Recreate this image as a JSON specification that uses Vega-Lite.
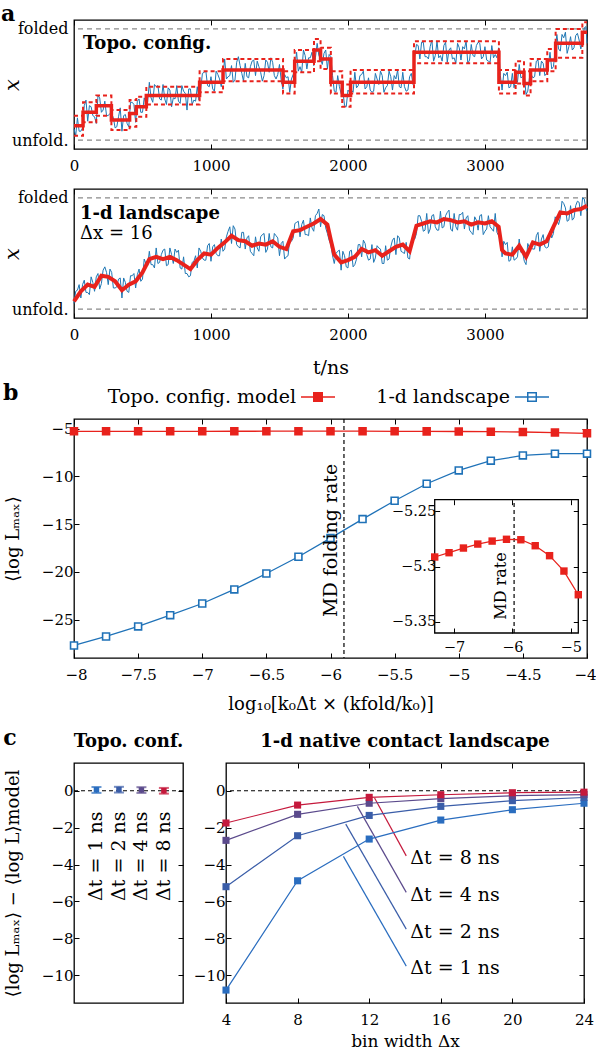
{
  "$schema": "https://vega.github.io/schema/vega-lite/v6.json",
  "background": "white",
  "padding": {"left": 0, "top": 2, "right": 0, "bottom": 0},
  "datasets": {
    "lv": [{"lvl": 0}, {"lvl": 1}],
    "aTopStep": [
      {"t":0,"lvl":0.13,"lo":0.04,"hi":0.22},{"t":66,"lvl":0.25,"lo":0.16,"hi":0.34},{"t":163,"lvl":0.31,"lo":0.22,"hi":0.40},
      {"t":273,"lvl":0.18,"lo":0.09,"hi":0.27},{"t":406,"lvl":0.24,"lo":0.12,"hi":0.36},{"t":455,"lvl":0.30,"lo":0.21,"hi":0.39},
      {"t":528,"lvl":0.40,"lo":0.32,"hi":0.48},{"t":917,"lvl":0.52,"lo":0.43,"hi":0.62},{"t":1088,"lvl":0.63,"lo":0.53,"hi":0.73},
      {"t":1526,"lvl":0.52,"lo":0.42,"hi":0.62},{"t":1611,"lvl":0.71,"lo":0.61,"hi":0.81},{"t":1752,"lvl":0.81,"lo":0.71,"hi":0.91},
      {"t":1800,"lvl":0.73,"lo":0.64,"hi":0.83},{"t":1875,"lvl":0.52,"lo":0.42,"hi":0.62},{"t":1958,"lvl":0.40,"lo":0.30,"hi":0.50},
      {"t":2019,"lvl":0.52,"lo":0.42,"hi":0.63},{"t":2482,"lvl":0.79,"lo":0.69,"hi":0.89},{"t":3102,"lvl":0.52,"lo":0.42,"hi":0.63},
      {"t":3224,"lvl":0.61,"lo":0.51,"hi":0.71},{"t":3285,"lvl":0.51,"lo":0.40,"hi":0.62},{"t":3333,"lvl":0.63,"lo":0.53,"hi":0.73},
      {"t":3455,"lvl":0.72,"lo":0.62,"hi":0.82},{"t":3516,"lvl":0.87,"lo":0.74,"hi":1.00},{"t":3711,"lvl":0.97,"lo":0.86,"hi":1.06},
      {"t":3745,"lvl":0.97,"lo":0.86,"hi":1.06}
    ],
    "aTopBlue": [
      {"t":0,"x":0.10},{"t":25,"x":0.20},{"t":50,"x":0.08},{"t":75,"x":0.31},{"t":100,"x":0.17},{"t":125,"x":0.30},{"t":150,"x":0.21},{"t":175,"x":0.40},
      {"t":200,"x":0.25},{"t":225,"x":0.35},{"t":250,"x":0.22},{"t":275,"x":0.24},{"t":300,"x":0.11},{"t":325,"x":0.21},{"t":350,"x":0.08},{"t":375,"x":0.23},
      {"t":400,"x":0.12},{"t":425,"x":0.34},{"t":450,"x":0.16},{"t":475,"x":0.37},{"t":500,"x":0.25},{"t":525,"x":0.33},{"t":550,"x":0.52},{"t":575,"x":0.34},
      {"t":600,"x":0.48},{"t":625,"x":0.37},{"t":650,"x":0.50},{"t":675,"x":0.32},{"t":700,"x":0.45},{"t":725,"x":0.38},{"t":750,"x":0.49},{"t":775,"x":0.33},
      {"t":800,"x":0.44},{"t":825,"x":0.27},{"t":850,"x":0.46},{"t":875,"x":0.36},{"t":900,"x":0.48},{"t":925,"x":0.46},{"t":950,"x":0.61},{"t":975,"x":0.49},
      {"t":1000,"x":0.57},{"t":1025,"x":0.44},{"t":1050,"x":0.59},{"t":1075,"x":0.48},{"t":1100,"x":0.73},{"t":1125,"x":0.57},{"t":1150,"x":0.67},{"t":1175,"x":0.54},
      {"t":1200,"x":0.75},{"t":1225,"x":0.60},{"t":1250,"x":0.69},{"t":1275,"x":0.56},{"t":1300,"x":0.71},{"t":1325,"x":0.58},{"t":1350,"x":0.66},{"t":1375,"x":0.53},
      {"t":1400,"x":0.72},{"t":1425,"x":0.61},{"t":1450,"x":0.70},{"t":1475,"x":0.55},{"t":1500,"x":0.68},{"t":1525,"x":0.46},{"t":1550,"x":0.56},{"t":1575,"x":0.43},
      {"t":1600,"x":0.59},{"t":1625,"x":0.79},{"t":1650,"x":0.66},{"t":1675,"x":0.81},{"t":1700,"x":0.64},{"t":1725,"x":0.74},{"t":1750,"x":0.67},{"t":1775,"x":0.87},
      {"t":1800,"x":0.73},{"t":1825,"x":0.78},{"t":1850,"x":0.64},{"t":1875,"x":0.75},{"t":1900,"x":0.44},{"t":1925,"x":0.58},{"t":1950,"x":0.42},{"t":1975,"x":0.31},
      {"t":2000,"x":0.45},{"t":2025,"x":0.45},{"t":2050,"x":0.61},{"t":2075,"x":0.49},{"t":2100,"x":0.59},{"t":2125,"x":0.46},{"t":2150,"x":0.56},{"t":2175,"x":0.43},
      {"t":2200,"x":0.60},{"t":2225,"x":0.50},{"t":2250,"x":0.58},{"t":2275,"x":0.47},{"t":2300,"x":0.62},{"t":2325,"x":0.45},{"t":2350,"x":0.55},{"t":2375,"x":0.48},
      {"t":2400,"x":0.61},{"t":2425,"x":0.44},{"t":2450,"x":0.57},{"t":2475,"x":0.50},{"t":2500,"x":0.86},{"t":2525,"x":0.73},{"t":2550,"x":0.88},{"t":2575,"x":0.75},
      {"t":2600,"x":0.84},{"t":2625,"x":0.71},{"t":2650,"x":0.89},{"t":2675,"x":0.76},{"t":2700,"x":0.85},{"t":2725,"x":0.70},{"t":2750,"x":0.83},{"t":2775,"x":0.74},
      {"t":2800,"x":0.87},{"t":2825,"x":0.72},{"t":2850,"x":0.82},{"t":2875,"x":0.69},{"t":2900,"x":0.86},{"t":2925,"x":0.75},{"t":2950,"x":0.88},{"t":2975,"x":0.73},
      {"t":3000,"x":0.84},{"t":3025,"x":0.71},{"t":3050,"x":0.85},{"t":3075,"x":0.77},{"t":3100,"x":0.83},{"t":3125,"x":0.45},{"t":3150,"x":0.58},{"t":3175,"x":0.47},
      {"t":3200,"x":0.60},{"t":3225,"x":0.55},{"t":3250,"x":0.68},{"t":3275,"x":0.57},{"t":3300,"x":0.41},{"t":3325,"x":0.56},{"t":3350,"x":0.56},{"t":3375,"x":0.71},
      {"t":3400,"x":0.58},{"t":3425,"x":0.69},{"t":3450,"x":0.60},{"t":3475,"x":0.79},{"t":3500,"x":0.66},{"t":3525,"x":0.95},{"t":3550,"x":0.80},{"t":3575,"x":0.92},
      {"t":3600,"x":0.78},{"t":3625,"x":0.93},{"t":3650,"x":0.83},{"t":3675,"x":0.96},{"t":3700,"x":0.82},{"t":3725,"x":1.01},{"t":3745,"x":0.87},
      {"t":12.5,"x":0.04},{"t":37.5,"x":0.08},{"t":62.5,"x":0.11},{"t":87.5,"x":0.36},{"t":112.5,"x":0.31},{"t":137.5,"x":0.22},{"t":162.5,"x":0.15},{"t":187.5,"x":0.38},
      {"t":212.5,"x":0.27},{"t":237.5,"x":0.22},{"t":262.5,"x":0.24},{"t":287.5,"x":0.20},{"t":312.5,"x":0.12},{"t":337.5,"x":0.29},{"t":362.5,"x":0.22},{"t":387.5,"x":0.15},
      {"t":412.5,"x":0.34},{"t":437.5,"x":0.32},{"t":462.5,"x":0.35},{"t":487.5,"x":0.25},{"t":512.5,"x":0.38},{"t":537.5,"x":0.34},{"t":562.5,"x":0.38},{"t":587.5,"x":0.50},
      {"t":612.5,"x":0.49},{"t":637.5,"x":0.36},{"t":662.5,"x":0.37},{"t":687.5,"x":0.47},{"t":712.5,"x":0.30},{"t":737.5,"x":0.37},{"t":762.5,"x":0.35},{"t":787.5,"x":0.49},
      {"t":812.5,"x":0.42},{"t":837.5,"x":0.46},{"t":862.5,"x":0.32},{"t":887.5,"x":0.35},{"t":912.5,"x":0.36},{"t":937.5,"x":0.60},{"t":962.5,"x":0.62},{"t":987.5,"x":0.48},
      {"t":1012.5,"x":0.46},{"t":1037.5,"x":0.62},{"t":1062.5,"x":0.55},{"t":1087.5,"x":0.58},{"t":1112.5,"x":0.55},{"t":1137.5,"x":0.58},{"t":1162.5,"x":0.52},{"t":1187.5,"x":0.70},
      {"t":1212.5,"x":0.67},{"t":1237.5,"x":0.53},{"t":1262.5,"x":0.57},{"t":1287.5,"x":0.66},{"t":1312.5,"x":0.72},{"t":1337.5,"x":0.71},{"t":1362.5,"x":0.61},{"t":1387.5,"x":0.58},
      {"t":1412.5,"x":0.70},{"t":1437.5,"x":0.74},{"t":1462.5,"x":0.58},{"t":1487.5,"x":0.59},{"t":1512.5,"x":0.54},{"t":1537.5,"x":0.59},{"t":1562.5,"x":0.57},{"t":1587.5,"x":0.55},
      {"t":1612.5,"x":0.65},{"t":1637.5,"x":0.62},{"t":1662.5,"x":0.61},{"t":1687.5,"x":0.76},{"t":1712.5,"x":0.74},{"t":1737.5,"x":0.79},{"t":1762.5,"x":0.74},{"t":1787.5,"x":0.76},
      {"t":1812.5,"x":0.68},{"t":1837.5,"x":0.81},{"t":1862.5,"x":0.77},{"t":1887.5,"x":0.58},{"t":1912.5,"x":0.43},{"t":1937.5,"x":0.48},{"t":1962.5,"x":0.45},{"t":1987.5,"x":0.30},
      {"t":2012.5,"x":0.43},{"t":2037.5,"x":0.43},{"t":2062.5,"x":0.47},{"t":2087.5,"x":0.58},{"t":2112.5,"x":0.62},{"t":2137.5,"x":0.48},{"t":2162.5,"x":0.45},{"t":2187.5,"x":0.44},
      {"t":2212.5,"x":0.55},{"t":2237.5,"x":0.62},{"t":2262.5,"x":0.43},{"t":2287.5,"x":0.49},{"t":2312.5,"x":0.57},{"t":2337.5,"x":0.58},{"t":2362.5,"x":0.63},{"t":2387.5,"x":0.47},
      {"t":2412.5,"x":0.48},{"t":2437.5,"x":0.45},{"t":2462.5,"x":0.60},{"t":2487.5,"x":0.75},{"t":2512.5,"x":0.85},{"t":2537.5,"x":0.88},{"t":2562.5,"x":0.75},{"t":2587.5,"x":0.73},
      {"t":2612.5,"x":0.90},{"t":2637.5,"x":0.76},{"t":2662.5,"x":0.74},{"t":2687.5,"x":0.71},{"t":2712.5,"x":0.88},{"t":2737.5,"x":0.81},{"t":2762.5,"x":0.73},{"t":2787.5,"x":0.69},
      {"t":2812.5,"x":0.83},{"t":2837.5,"x":0.84},{"t":2862.5,"x":0.89},{"t":2887.5,"x":0.72},{"t":2912.5,"x":0.76},{"t":2937.5,"x":0.85},{"t":2962.5,"x":0.87},{"t":2987.5,"x":0.75},
      {"t":3012.5,"x":0.72},{"t":3037.5,"x":0.70},{"t":3062.5,"x":0.74},{"t":3087.5,"x":0.74},{"t":3112.5,"x":0.58},{"t":3137.5,"x":0.60},{"t":3162.5,"x":0.61},{"t":3187.5,"x":0.48},
      {"t":3212.5,"x":0.47},{"t":3237.5,"x":0.52},{"t":3262.5,"x":0.56},{"t":3287.5,"x":0.58},{"t":3312.5,"x":0.44},{"t":3337.5,"x":0.59},{"t":3362.5,"x":0.57},{"t":3387.5,"x":0.72},
      {"t":3412.5,"x":0.71},{"t":3437.5,"x":0.58},{"t":3462.5,"x":0.67},{"t":3487.5,"x":0.64},{"t":3512.5,"x":0.81},{"t":3537.5,"x":0.82},{"t":3562.5,"x":0.95},{"t":3587.5,"x":0.97},
      {"t":3612.5,"x":0.84},{"t":3637.5,"x":0.81},{"t":3662.5,"x":0.94},{"t":3687.5,"x":0.90},{"t":3712.5,"x":0.89},{"t":3737.5,"x":1.02}
    ],
    "aBotRed": [
      {"t":0,"r":0.07},{"t":50,"r":0.16},{"t":100,"r":0.22},{"t":150,"r":0.20},{"t":200,"r":0.30},{"t":250,"r":0.29},{"t":300,"r":0.25},{"t":350,"r":0.17},
      {"t":400,"r":0.22},{"t":450,"r":0.25},{"t":500,"r":0.33},{"t":550,"r":0.45},{"t":600,"r":0.47},{"t":650,"r":0.45},{"t":700,"r":0.47},{"t":750,"r":0.44},
      {"t":800,"r":0.40},{"t":850,"r":0.36},{"t":900,"r":0.44},{"t":950,"r":0.50},{"t":1000,"r":0.49},{"t":1050,"r":0.55},{"t":1100,"r":0.60},{"t":1150,"r":0.66},
      {"t":1200,"r":0.62},{"t":1250,"r":0.61},{"t":1300,"r":0.57},{"t":1350,"r":0.59},{"t":1400,"r":0.58},{"t":1450,"r":0.61},{"t":1500,"r":0.56},{"t":1550,"r":0.54},
      {"t":1600,"r":0.70},{"t":1650,"r":0.71},{"t":1700,"r":0.74},{"t":1750,"r":0.77},{"t":1800,"r":0.81},{"t":1850,"r":0.76},{"t":1875,"r":0.62},{"t":1900,"r":0.49},
      {"t":1950,"r":0.42},{"t":2000,"r":0.44},{"t":2050,"r":0.47},{"t":2100,"r":0.54},{"t":2150,"r":0.51},{"t":2200,"r":0.53},{"t":2250,"r":0.48},{"t":2300,"r":0.52},
      {"t":2350,"r":0.56},{"t":2400,"r":0.58},{"t":2450,"r":0.52},{"t":2500,"r":0.75},{"t":2550,"r":0.77},{"t":2600,"r":0.79},{"t":2650,"r":0.78},{"t":2700,"r":0.81},
      {"t":2750,"r":0.80},{"t":2800,"r":0.78},{"t":2850,"r":0.79},{"t":2900,"r":0.76},{"t":2950,"r":0.78},{"t":3000,"r":0.77},{"t":3050,"r":0.79},{"t":3100,"r":0.74},
      {"t":3125,"r":0.53},{"t":3150,"r":0.50},{"t":3200,"r":0.49},{"t":3250,"r":0.57},{"t":3300,"r":0.47},{"t":3350,"r":0.60},{"t":3400,"r":0.58},{"t":3450,"r":0.61},
      {"t":3500,"r":0.74},{"t":3550,"r":0.87},{"t":3600,"r":0.86},{"t":3650,"r":0.89},{"t":3700,"r":0.90},{"t":3745,"r":0.93}
    ],
    "aBotBlue": [
      {"t":0,"x":0.05},{"t":25,"x":0.17},{"t":50,"x":0.10},{"t":75,"x":0.26},{"t":100,"x":0.15},{"t":125,"x":0.29},{"t":150,"x":0.16},{"t":175,"x":0.32},
      {"t":200,"x":0.23},{"t":225,"x":0.38},{"t":250,"x":0.22},{"t":275,"x":0.33},{"t":300,"x":0.19},{"t":325,"x":0.27},{"t":350,"x":0.10},{"t":375,"x":0.24},
      {"t":400,"x":0.15},{"t":425,"x":0.30},{"t":450,"x":0.19},{"t":475,"x":0.36},{"t":500,"x":0.27},{"t":525,"x":0.41},{"t":550,"x":0.52},{"t":575,"x":0.40},
      {"t":600,"x":0.55},{"t":625,"x":0.42},{"t":650,"x":0.53},{"t":675,"x":0.39},{"t":700,"x":0.55},{"t":725,"x":0.41},{"t":750,"x":0.51},{"t":775,"x":0.37},
      {"t":800,"x":0.47},{"t":825,"x":0.32},{"t":850,"x":0.30},{"t":875,"x":0.43},{"t":900,"x":0.37},{"t":925,"x":0.52},{"t":950,"x":0.44},{"t":975,"x":0.57},
      {"t":1000,"x":0.43},{"t":1025,"x":0.58},{"t":1050,"x":0.48},{"t":1075,"x":0.63},{"t":1100,"x":0.54},{"t":1125,"x":0.70},{"t":1150,"x":0.59},{"t":1175,"x":0.72},
      {"t":1200,"x":0.56},{"t":1225,"x":0.69},{"t":1250,"x":0.54},{"t":1275,"x":0.66},{"t":1300,"x":0.50},{"t":1325,"x":0.65},{"t":1350,"x":0.52},{"t":1375,"x":0.67},
      {"t":1400,"x":0.51},{"t":1425,"x":0.68},{"t":1450,"x":0.55},{"t":1475,"x":0.66},{"t":1500,"x":0.48},{"t":1525,"x":0.61},{"t":1550,"x":0.47},{"t":1575,"x":0.63},
      {"t":1600,"x":0.64},{"t":1625,"x":0.78},{"t":1650,"x":0.65},{"t":1675,"x":0.80},{"t":1700,"x":0.67},{"t":1725,"x":0.82},{"t":1750,"x":0.70},{"t":1775,"x":0.86},
      {"t":1800,"x":0.74},{"t":1825,"x":0.84},{"t":1850,"x":0.68},{"t":1875,"x":0.58},{"t":1900,"x":0.41},{"t":1925,"x":0.52},{"t":1950,"x":0.35},{"t":1975,"x":0.48},
      {"t":2000,"x":0.37},{"t":2025,"x":0.53},{"t":2050,"x":0.40},{"t":2075,"x":0.58},{"t":2100,"x":0.47},{"t":2125,"x":0.59},{"t":2150,"x":0.44},{"t":2175,"x":0.58},
      {"t":2200,"x":0.46},{"t":2225,"x":0.55},{"t":2250,"x":0.41},{"t":2275,"x":0.57},{"t":2300,"x":0.45},{"t":2325,"x":0.62},{"t":2350,"x":0.49},{"t":2375,"x":0.64},
      {"t":2400,"x":0.51},{"t":2425,"x":0.60},{"t":2450,"x":0.45},{"t":2475,"x":0.62},{"t":2500,"x":0.68},{"t":2525,"x":0.84},{"t":2550,"x":0.70},{"t":2575,"x":0.86},
      {"t":2600,"x":0.72},{"t":2625,"x":0.85},{"t":2650,"x":0.71},{"t":2675,"x":0.88},{"t":2700,"x":0.74},{"t":2725,"x":0.87},{"t":2750,"x":0.72},{"t":2775,"x":0.86},
      {"t":2800,"x":0.71},{"t":2825,"x":0.85},{"t":2850,"x":0.72},{"t":2875,"x":0.84},{"t":2900,"x":0.69},{"t":2925,"x":0.83},{"t":2950,"x":0.71},{"t":2975,"x":0.85},
      {"t":3000,"x":0.70},{"t":3025,"x":0.84},{"t":3050,"x":0.72},{"t":3075,"x":0.86},{"t":3100,"x":0.66},{"t":3125,"x":0.47},{"t":3150,"x":0.58},{"t":3175,"x":0.43},
      {"t":3200,"x":0.56},{"t":3225,"x":0.45},{"t":3250,"x":0.63},{"t":3275,"x":0.51},{"t":3300,"x":0.40},{"t":3325,"x":0.55},{"t":3350,"x":0.54},{"t":3375,"x":0.66},
      {"t":3400,"x":0.52},{"t":3425,"x":0.67},{"t":3450,"x":0.55},{"t":3475,"x":0.70},{"t":3500,"x":0.68},{"t":3525,"x":0.80},{"t":3550,"x":0.82},{"t":3575,"x":0.95},
      {"t":3600,"x":0.79},{"t":3625,"x":0.93},{"t":3650,"x":0.82},{"t":3675,"x":0.97},{"t":3700,"x":0.84},{"t":3725,"x":0.99},{"t":3745,"x":0.88},
      {"t":12.5,"x":0.16},{"t":37.5,"x":0.22},{"t":62.5,"x":0.22},{"t":87.5,"x":0.15},{"t":112.5,"x":0.13},{"t":137.5,"x":0.24},{"t":162.5,"x":0.29},{"t":187.5,"x":0.18},
      {"t":212.5,"x":0.35},{"t":237.5,"x":0.33},{"t":262.5,"x":0.36},{"t":287.5,"x":0.19},{"t":312.5,"x":0.20},{"t":337.5,"x":0.28},{"t":362.5,"x":0.28},{"t":387.5,"x":0.16},
      {"t":412.5,"x":0.30},{"t":437.5,"x":0.32},{"t":462.5,"x":0.31},{"t":487.5,"x":0.25},{"t":512.5,"x":0.45},{"t":537.5,"x":0.39},{"t":562.5,"x":0.40},{"t":587.5,"x":0.37},
      {"t":612.5,"x":0.41},{"t":637.5,"x":0.49},{"t":662.5,"x":0.54},{"t":687.5,"x":0.40},{"t":712.5,"x":0.49},{"t":737.5,"x":0.54},{"t":762.5,"x":0.53},{"t":787.5,"x":0.36},
      {"t":812.5,"x":0.32},{"t":837.5,"x":0.29},{"t":862.5,"x":0.42},{"t":887.5,"x":0.48},{"t":912.5,"x":0.55},{"t":937.5,"x":0.46},{"t":962.5,"x":0.44},{"t":987.5,"x":0.59},
      {"t":1012.5,"x":0.56},{"t":1037.5,"x":0.50},{"t":1062.5,"x":0.48},{"t":1087.5,"x":0.52},{"t":1112.5,"x":0.65},{"t":1137.5,"x":0.74},{"t":1162.5,"x":0.75},{"t":1187.5,"x":0.58},
      {"t":1212.5,"x":0.55},{"t":1237.5,"x":0.69},{"t":1262.5,"x":0.64},{"t":1287.5,"x":0.52},{"t":1312.5,"x":0.48},{"t":1337.5,"x":0.55},{"t":1362.5,"x":0.65},{"t":1387.5,"x":0.68},
      {"t":1412.5,"x":0.54},{"t":1437.5,"x":0.56},{"t":1462.5,"x":0.68},{"t":1487.5,"x":0.64},{"t":1512.5,"x":0.59},{"t":1537.5,"x":0.45},{"t":1562.5,"x":0.48},{"t":1587.5,"x":0.61},
      {"t":1612.5,"x":0.77},{"t":1637.5,"x":0.79},{"t":1662.5,"x":0.76},{"t":1687.5,"x":0.67},{"t":1712.5,"x":0.66},{"t":1737.5,"x":0.73},{"t":1762.5,"x":0.84},{"t":1787.5,"x":0.90},
      {"t":1812.5,"x":0.85},{"t":1837.5,"x":0.73},{"t":1862.5,"x":0.62},{"t":1887.5,"x":0.48},{"t":1912.5,"x":0.50},{"t":1937.5,"x":0.53},{"t":1962.5,"x":0.52},{"t":1987.5,"x":0.38},
      {"t":2012.5,"x":0.52},{"t":2037.5,"x":0.38},{"t":2062.5,"x":0.45},{"t":2087.5,"x":0.58},{"t":2112.5,"x":0.62},{"t":2137.5,"x":0.49},{"t":2162.5,"x":0.45},{"t":2187.5,"x":0.42},
      {"t":2212.5,"x":0.57},{"t":2237.5,"x":0.54},{"t":2262.5,"x":0.41},{"t":2287.5,"x":0.44},{"t":2312.5,"x":0.56},{"t":2337.5,"x":0.64},{"t":2362.5,"x":0.66},{"t":2387.5,"x":0.52},
      {"t":2412.5,"x":0.50},{"t":2437.5,"x":0.46},{"t":2462.5,"x":0.61},{"t":2487.5,"x":0.63},{"t":2512.5,"x":0.84},{"t":2537.5,"x":0.79},{"t":2562.5,"x":0.71},{"t":2587.5,"x":0.68},
      {"t":2612.5,"x":0.84},{"t":2637.5,"x":0.74},{"t":2662.5,"x":0.71},{"t":2687.5,"x":0.73},{"t":2712.5,"x":0.84},{"t":2737.5,"x":0.89},{"t":2762.5,"x":0.70},{"t":2787.5,"x":0.74},
      {"t":2812.5,"x":0.85},{"t":2837.5,"x":0.87},{"t":2862.5,"x":0.82},{"t":2887.5,"x":0.71},{"t":2912.5,"x":0.67},{"t":2937.5,"x":0.80},{"t":2962.5,"x":0.84},{"t":2987.5,"x":0.67},
      {"t":3012.5,"x":0.72},{"t":3037.5,"x":0.74},{"t":3062.5,"x":0.70},{"t":3087.5,"x":0.69},{"t":3112.5,"x":0.67},{"t":3137.5,"x":0.61},{"t":3162.5,"x":0.60},{"t":3187.5,"x":0.44},
      {"t":3212.5,"x":0.44},{"t":3237.5,"x":0.47},{"t":3262.5,"x":0.51},{"t":3287.5,"x":0.43},{"t":3312.5,"x":0.59},{"t":3337.5,"x":0.55},{"t":3362.5,"x":0.54},{"t":3387.5,"x":0.69},
      {"t":3412.5,"x":0.63},{"t":3437.5,"x":0.56},{"t":3462.5,"x":0.56},{"t":3487.5,"x":0.64},{"t":3512.5,"x":0.83},{"t":3537.5,"x":0.76},{"t":3562.5,"x":0.97},{"t":3587.5,"x":0.91},
      {"t":3612.5,"x":0.80},{"t":3637.5,"x":0.80},{"t":3662.5,"x":0.93},{"t":3687.5,"x":0.96},{"t":3712.5,"x":1.00},{"t":3737.5,"x":0.90}
    ],
    "bMain": [
      {"k":-8,"v":-5.29,"series":"Topo. config. model"},{"k":-7.75,"v":-5.29,"series":"Topo. config. model"},{"k":-7.5,"v":-5.29,"series":"Topo. config. model"},
      {"k":-7.25,"v":-5.29,"series":"Topo. config. model"},{"k":-7,"v":-5.286,"series":"Topo. config. model"},{"k":-6.75,"v":-5.281,"series":"Topo. config. model"},
      {"k":-6.5,"v":-5.278,"series":"Topo. config. model"},{"k":-6.25,"v":-5.276,"series":"Topo. config. model"},{"k":-6,"v":-5.275,"series":"Topo. config. model"},
      {"k":-5.75,"v":-5.277,"series":"Topo. config. model"},{"k":-5.5,"v":-5.284,"series":"Topo. config. model"},{"k":-5.25,"v":-5.293,"series":"Topo. config. model"},
      {"k":-5,"v":-5.31,"series":"Topo. config. model"},{"k":-4.75,"v":-5.33,"series":"Topo. config. model"},{"k":-4.5,"v":-5.36,"series":"Topo. config. model"},
      {"k":-4.25,"v":-5.42,"series":"Topo. config. model"},{"k":-4,"v":-5.5,"series":"Topo. config. model"},
      {"k":-8,"v":-27.69,"series":"1-d landscape"},{"k":-7.75,"v":-26.75,"series":"1-d landscape"},{"k":-7.5,"v":-25.7,"series":"1-d landscape"},
      {"k":-7.25,"v":-24.52,"series":"1-d landscape"},{"k":-7,"v":-23.3,"series":"1-d landscape"},{"k":-6.75,"v":-21.83,"series":"1-d landscape"},
      {"k":-6.5,"v":-20.16,"series":"1-d landscape"},{"k":-6.25,"v":-18.41,"series":"1-d landscape"},{"k":-6,"v":-16.46,"series":"1-d landscape"},
      {"k":-5.75,"v":-14.47,"series":"1-d landscape"},{"k":-5.5,"v":-12.55,"series":"1-d landscape"},{"k":-5.25,"v":-10.77,"series":"1-d landscape"},
      {"k":-5,"v":-9.38,"series":"1-d landscape"},{"k":-4.75,"v":-8.36,"series":"1-d landscape"},{"k":-4.5,"v":-7.81,"series":"1-d landscape"},
      {"k":-4.25,"v":-7.63,"series":"1-d landscape"},{"k":-4,"v":-7.63,"series":"1-d landscape"}
    ],
    "bInset": [
      {"k":-7.33,"v":-5.2913},{"k":-7.084,"v":-5.2874},{"k":-6.838,"v":-5.2832},{"k":-6.592,"v":-5.2796},{"k":-6.346,"v":-5.2769},
      {"k":-6.1,"v":-5.2753},{"k":-5.854,"v":-5.2757},{"k":-5.608,"v":-5.2811},{"k":-5.362,"v":-5.2901},{"k":-5.116,"v":-5.304},{"k":-4.87,"v":-5.3254}
    ],
    "cTopo": [
      {"dt":"Δt = 1 ns","pos":1,"v":0.05,"lo":-0.12,"hi":0.2},
      {"dt":"Δt = 2 ns","pos":2,"v":0.06,"lo":-0.1,"hi":0.21},
      {"dt":"Δt = 4 ns","pos":3,"v":0.04,"lo":-0.12,"hi":0.19},
      {"dt":"Δt = 8 ns","pos":4,"v":0.0,"lo":-0.16,"hi":0.15}
    ],
    "cLand": [
      {"dt":"Δt = 1 ns","bw":4,"v":-10.8},{"dt":"Δt = 1 ns","bw":8,"v":-4.88},{"dt":"Δt = 1 ns","bw":12,"v":-2.62},{"dt":"Δt = 1 ns","bw":16,"v":-1.59},{"dt":"Δt = 1 ns","bw":20,"v":-1.03},{"dt":"Δt = 1 ns","bw":24,"v":-0.68},
      {"dt":"Δt = 2 ns","bw":4,"v":-5.2},{"dt":"Δt = 2 ns","bw":8,"v":-2.44},{"dt":"Δt = 2 ns","bw":12,"v":-1.34},{"dt":"Δt = 2 ns","bw":16,"v":-0.85},{"dt":"Δt = 2 ns","bw":20,"v":-0.54},{"dt":"Δt = 2 ns","bw":24,"v":-0.37},
      {"dt":"Δt = 4 ns","bw":4,"v":-2.69},{"dt":"Δt = 4 ns","bw":8,"v":-1.28},{"dt":"Δt = 4 ns","bw":12,"v":-0.68},{"dt":"Δt = 4 ns","bw":16,"v":-0.43},{"dt":"Δt = 4 ns","bw":20,"v":-0.27},{"dt":"Δt = 4 ns","bw":24,"v":-0.21},
      {"dt":"Δt = 8 ns","bw":4,"v":-1.75},{"dt":"Δt = 8 ns","bw":8,"v":-0.78},{"dt":"Δt = 8 ns","bw":12,"v":-0.36},{"dt":"Δt = 8 ns","bw":16,"v":-0.22},{"dt":"Δt = 8 ns","bw":20,"v":-0.11},{"dt":"Δt = 8 ns","bw":24,"v":-0.08}
    ],
    "cAnn": [
      {"dt":"Δt = 8 ns","x1":12.3,"y1":-0.4,"x2":14.07,"y2":-3.53,"lx":14.3,"ly":-3.66},
      {"dt":"Δt = 4 ns","x1":11.34,"y1":-0.85,"x2":14.07,"y2":-5.51,"lx":14.3,"ly":-5.64},
      {"dt":"Δt = 2 ns","x1":10.69,"y1":-1.81,"x2":14.07,"y2":-7.5,"lx":14.3,"ly":-7.66},
      {"dt":"Δt = 1 ns","x1":10.56,"y1":-3.56,"x2":14.07,"y2":-9.5,"lx":14.3,"ly":-9.63}
    ]
  },
  "vconcat": [
    {
      "spacing": 13,
      "vconcat": [
        {
          "width": 513, "height": 129,
          "title": {"text": "a", "anchor": "start", "frame": "bounds", "fontSize": 22, "fontWeight": "bold", "font": "DejaVu Serif", "offset": -8},
          "resolve": {"axis": {"x": "independent", "y": "independent"}},
          "layer": [
            {"data": {"name": "lv"}, "mark": {"type": "rule", "color": "#8a8a8a", "strokeDash": [5, 4], "strokeWidth": 1.2},
             "encoding": {"y": {"field": "lvl", "type": "quantitative", "scale": {"domain": [-0.08, 1.08], "nice": false, "zero": false},
               "axis": {"orient": "left", "values": [0, 1], "labelExpr": "datum.value > 0.5 ? 'folded' : 'unfold.'", "ticks": false, "labelPadding": 6, "labelFontSize": 16, "title": "x", "titleFontStyle": "italic", "titleFontSize": 21, "minExtent": 50, "maxExtent": 50, "titlePadding": 2}}}},
            {"data": {"name": "aTopBlue"}, "mark": {"type": "line", "color": "#1f77b4", "strokeWidth": 1},
             "encoding": {"x": {"field": "t", "type": "quantitative", "scale": {"domain": [0, 3745], "nice": false, "zero": false},
               "axis": {"orient": "bottom", "values": [0, 1000, 2000, 3000], "format": "d", "title": null, "labelPadding": 14}},
               "y": {"field": "x", "type": "quantitative", "axis": null}}},
            {"data": {"name": "aTopStep"}, "mark": {"type": "line", "color": "#e8221c", "strokeWidth": 2, "strokeDash": [4, 3], "interpolate": "step-after"},
             "encoding": {"x": {"field": "t", "type": "quantitative", "axis": {"orient": "top", "values": [0, 1000, 2000, 3000], "labels": false, "title": null}},
               "y": {"field": "hi", "type": "quantitative", "axis": null}}},
            {"data": {"name": "aTopStep"}, "mark": {"type": "line", "color": "#e8221c", "strokeWidth": 2, "strokeDash": [4, 3], "interpolate": "step-after"},
             "encoding": {"x": {"field": "t", "type": "quantitative", "axis": null}, "y": {"field": "lo", "type": "quantitative", "axis": null}}},
            {"data": {"name": "aTopStep"}, "mark": {"type": "line", "color": "#e8221c", "strokeWidth": 3.5, "interpolate": "step-after"},
             "encoding": {"x": {"field": "t", "type": "quantitative", "axis": null}, "y": {"field": "lvl", "type": "quantitative", "axis": null}}},
            {"data": {"values": [{}]}, "mark": {"type": "text", "text": "Topo. config.", "font": "DejaVu Serif", "fontWeight": "bold", "fontSize": 18, "align": "left", "baseline": "middle", "color": "black"},
             "encoding": {"x": {"datum": 66, "type": "quantitative", "axis": null}, "y": {"datum": 0.868, "type": "quantitative", "axis": null}}}
          ]
        },
        {
          "width": 513, "height": 129,
          "resolve": {"axis": {"x": "independent", "y": "independent"}},
          "layer": [
            {"data": {"name": "lv"}, "mark": {"type": "rule", "color": "#8a8a8a", "strokeDash": [5, 4], "strokeWidth": 1.2},
             "encoding": {"y": {"field": "lvl", "type": "quantitative", "scale": {"domain": [-0.08, 1.08], "nice": false, "zero": false},
               "axis": {"orient": "left", "values": [0, 1], "labelExpr": "datum.value > 0.5 ? 'folded' : 'unfold.'", "ticks": false, "labelPadding": 6, "labelFontSize": 16, "title": "x", "titleFontStyle": "italic", "titleFontSize": 21, "minExtent": 50, "maxExtent": 50, "titlePadding": 2}}}},
            {"data": {"name": "aBotBlue"}, "mark": {"type": "line", "color": "#1f77b4", "strokeWidth": 1},
             "encoding": {"x": {"field": "t", "type": "quantitative", "scale": {"domain": [0, 3745], "nice": false, "zero": false},
               "axis": {"orient": "bottom", "values": [0, 1000, 2000, 3000], "format": "d", "title": "t/ns", "titleFontSize": 19, "labelPadding": 14, "titlePadding": 16}},
               "y": {"field": "x", "type": "quantitative", "axis": null}}},
            {"data": {"name": "aBotRed"}, "mark": {"type": "line", "color": "#e8221c", "strokeWidth": 4},
             "encoding": {"x": {"field": "t", "type": "quantitative", "axis": {"orient": "top", "values": [0, 1000, 2000, 3000], "labels": false, "title": null}},
               "y": {"field": "r", "type": "quantitative", "axis": null}}},
            {"data": {"values": [{}]}, "mark": {"type": "text", "text": "1-d landscape", "font": "DejaVu Serif", "fontWeight": "bold", "fontSize": 18, "align": "left", "baseline": "middle", "color": "black"},
             "encoding": {"x": {"datum": 44, "type": "quantitative", "axis": null}, "y": {"datum": 0.856, "type": "quantitative", "axis": null}}},
            {"data": {"values": [{}]}, "mark": {"type": "text", "text": "Δx = 16", "font": "DejaVu Serif", "fontSize": 18, "align": "left", "baseline": "middle", "color": "black"},
             "encoding": {"x": {"datum": 44, "type": "quantitative", "axis": null}, "y": {"datum": 0.676, "type": "quantitative", "axis": null}}}
          ]
        }
      ]
    },
    {
      "spacing": 12,
      "resolve": {"scale": {"color": "independent", "fill": "independent", "stroke": "independent"}},
      "vconcat": [
        {
          "width": 513, "height": 239,
          "resolve": {"scale": {"x": "independent", "y": "independent"}},
          "layer": [
            {
              "resolve": {"axis": {"x": "independent", "y": "independent"}},
              "layer": [
                {"data": {"name": "bMain"}, "mark": {"type": "line", "strokeWidth": 1.3},
                 "encoding": {
                   "x": {"field": "k", "type": "quantitative", "scale": {"domain": [-8, -4], "nice": false, "zero": false},
                     "axis": {"orient": "bottom", "values": [-8, -7.5, -7, -6.5, -6, -5.5, -5, -4.5, -4], "format": "~g", "title": "log₁₀[k₀Δt × (kfold/k₀)]", "labelPadding": 14, "titlePadding": 13, "labelFlush": true, "labelFlushOffset": 9}},
                   "y": {"field": "v", "type": "quantitative", "scale": {"domain": [-29, -4], "nice": false, "zero": false},
                     "axis": {"orient": "left", "values": [-5, -10, -15, -20, -25], "format": "d", "title": "⟨log Lₘₐₓ⟩", "labelPadding": 6, "minExtent": 50, "maxExtent": 50, "titlePadding": 2}},
                   "color": {"field": "series", "type": "nominal", "scale": {"domain": ["Topo. config. model", "1-d landscape"], "range": ["#e8221c", "#1f72b8"]},
                     "legend": {"orient": "none", "legendX": -71, "legendY": -40, "direction": "horizontal",
                       "title": "b", "titleOrient": "left", "titleFont": "DejaVu Serif", "titleFontSize": 22, "titleFontWeight": "bold", "titleColor": "black", "titlePadding": 281,
                       "labelFont": "DejaVu Serif", "labelFontSize": 19, "labelColor": "black", "labelLimit": 400, "labelAlign": "right", "labelOffset": -40,
                       "symbolType": "M-1,0H1M-0.25,-0.25H0.25V0.25H-0.25Z", "symbolSize": 1156, "symbolStrokeWidth": 1.5, "columnPadding": 38,
                       "encode": {"symbols": {"update": {"fill": {"signal": "datum.value === '1-d landscape' ? 'white' : '#e8221c'"}}}}}}
                 }},
                {"data": {"name": "bMain"}, "mark": {"type": "point", "shape": "square", "filled": true, "size": 48, "strokeWidth": 1.6, "opacity": 1},
                 "encoding": {
                   "x": {"field": "k", "type": "quantitative", "axis": {"orient": "top", "values": [-8, -7.5, -7, -6.5, -6, -5.5, -5, -4.5, -4], "labels": false, "title": null}},
                   "y": {"field": "v", "type": "quantitative", "axis": {"orient": "right", "values": [-5, -10, -15, -20, -25], "labels": false, "title": null}},
                   "fill": {"field": "series", "type": "nominal", "scale": {"domain": ["Topo. config. model", "1-d landscape"], "range": ["#e8221c", "white"]}, "legend": null},
                   "stroke": {"field": "series", "type": "nominal", "scale": {"domain": ["Topo. config. model", "1-d landscape"], "range": ["#e8221c", "#1f72b8"]}, "legend": null}
                 }},
                {"data": {"values": [{}]}, "mark": {"type": "rule", "color": "black", "strokeDash": [4, 3], "strokeWidth": 1.2},
                 "encoding": {"x": {"datum": -5.895, "type": "quantitative", "axis": null}}},
                {"data": {"values": [{}]}, "mark": {"type": "text", "text": "MD folding rate", "angle": 270, "fontSize": 19, "font": "DejaVu Serif", "align": "center", "baseline": "middle", "color": "black"},
                 "encoding": {"x": {"datum": -6.0, "type": "quantitative", "axis": null}, "y": {"datum": -16.7, "type": "quantitative", "axis": null}}}
              ]
            },
            {
              "resolve": {"axis": {"x": "independent", "y": "independent"}},
              "layer": [
                {"data": {"values": [{}]}, "mark": {"type": "rect", "fill": "white", "stroke": "black", "strokeWidth": 1.3},
                 "encoding": {
                   "x": {"datum": -7.33, "type": "quantitative", "scale": {"domain": [-7.33, -4.87], "range": [360.7, 504.3], "nice": false, "zero": false}, "axis": null},
                   "x2": {"datum": -4.87},
                   "y": {"datum": -5.36, "type": "quantitative", "scale": {"domain": [-5.36, -5.2395], "range": [214, 80.7], "nice": false, "zero": false}, "axis": null},
                   "y2": {"datum": -5.2395}
                 }},
                {"data": {"values": [{}]}, "mark": {"type": "rule", "color": "black", "strokeDash": [4, 3], "strokeWidth": 1.2},
                 "encoding": {"x": {"datum": -5.97, "type": "quantitative", "axis": null}, "y": {"datum": -5.36, "type": "quantitative", "axis": null}, "y2": {"datum": -5.2395}}},
                {"data": {"name": "bInset"}, "mark": {"type": "line", "color": "#e8221c", "strokeWidth": 1.3},
                 "encoding": {
                   "x": {"field": "k", "type": "quantitative", "axis": {"orient": "bottom", "offset": -25, "values": [-7, -6, -5], "format": "d", "title": null, "zindex": 1, "labelPadding": 12, "labelFontSize": 14.5}},
                   "y": {"field": "v", "type": "quantitative", "axis": {"orient": "left", "offset": -360.7, "values": [-5.25, -5.3, -5.35], "format": "~g", "title": null, "zindex": 1, "labelPadding": 4, "labelFontSize": 14.5}}
                 }},
                {"data": {"name": "bInset"}, "mark": {"type": "point", "shape": "square", "filled": true, "size": 55, "color": "#e8221c", "opacity": 1},
                 "encoding": {
                   "x": {"field": "k", "type": "quantitative", "axis": {"orient": "top", "offset": -80.7, "values": [-7, -6, -5], "labels": false, "title": null, "zindex": 1}},
                   "y": {"field": "v", "type": "quantitative", "axis": {"orient": "right", "offset": -8.7, "values": [-5.25, -5.3, -5.35], "labels": false, "title": null, "zindex": 1}}
                 }},
                {"data": {"values": [{}]}, "mark": {"type": "text", "text": "MD rate", "angle": 270, "fontSize": 16, "font": "DejaVu Serif", "align": "center", "baseline": "middle", "color": "black"},
                 "encoding": {"x": {"datum": -6.2, "type": "quantitative", "axis": null}, "y": {"datum": -5.3175, "type": "quantitative", "axis": null}}}
              ]
            }
          ]
        },
        {
          "spacing": 7,
          "title": {"text": "c", "anchor": "start", "frame": "bounds", "fontSize": 22, "fontWeight": "bold", "font": "DejaVu Serif", "offset": -18},
          "hconcat": [
            {
              "width": 109, "height": 240,
              "title": {"text": "Topo. conf.", "fontSize": 18, "fontWeight": "bold", "font": "DejaVu Serif", "offset": 12},
              "resolve": {"axis": {"x": "independent", "y": "independent"}},
              "layer": [
                {"data": {"values": [{}]}, "mark": {"type": "rule", "color": "black", "strokeDash": [4, 3], "strokeWidth": 1.1},
                 "encoding": {"y": {"datum": 0, "type": "quantitative", "scale": {"domain": [-11.5, 1.5], "nice": false, "zero": false},
                   "axis": {"orient": "left", "values": [0, -2, -4, -6, -8, -10], "format": "d", "title": "⟨log Lₘₐₓ⟩ − ⟨log L⟩model", "labelPadding": 6, "minExtent": 50, "maxExtent": 50, "titlePadding": 2}}}},
                {"data": {"name": "cTopo"}, "mark": {"type": "rule", "strokeWidth": 1.5},
                 "encoding": {
                   "x": {"field": "pos", "type": "quantitative", "scale": {"domain": [0, 4.85], "nice": false, "zero": false}, "axis": null},
                   "y": {"field": "lo", "type": "quantitative", "axis": {"orient": "right", "values": [0, -2, -4, -6, -8, -10], "labels": false, "title": null}},
                   "y2": {"field": "hi"},
                   "color": {"field": "dt", "type": "nominal", "scale": {"domain": ["Δt = 1 ns", "Δt = 2 ns", "Δt = 4 ns", "Δt = 8 ns"], "range": ["#2a6dbf", "#3a5da8", "#5b4a8c", "#c5193c"]}, "legend": null}
                 }},
                {"data": {"name": "cTopo"}, "mark": {"type": "tick", "orient": "horizontal", "size": 10, "thickness": 2},
                 "encoding": {"x": {"field": "pos", "type": "quantitative", "axis": null}, "y": {"field": "lo", "type": "quantitative", "axis": null}, "color": {"field": "dt", "type": "nominal", "legend": null}}},
                {"data": {"name": "cTopo"}, "mark": {"type": "tick", "orient": "horizontal", "size": 10, "thickness": 2},
                 "encoding": {"x": {"field": "pos", "type": "quantitative", "axis": null}, "y": {"field": "hi", "type": "quantitative", "axis": null}, "color": {"field": "dt", "type": "nominal", "legend": null}}},
                {"data": {"name": "cTopo"}, "mark": {"type": "point", "shape": "square", "filled": true, "size": 30, "opacity": 1},
                 "encoding": {"x": {"field": "pos", "type": "quantitative", "axis": null}, "y": {"field": "v", "type": "quantitative", "axis": null}, "color": {"field": "dt", "type": "nominal", "legend": null}}},
                {"data": {"name": "cTopo"}, "mark": {"type": "text", "angle": 270, "fontSize": 19, "font": "DejaVu Serif", "align": "center", "baseline": "middle", "color": "black"},
                 "encoding": {"x": {"field": "pos", "type": "quantitative", "axis": null}, "y": {"datum": -3.55, "type": "quantitative", "axis": null}, "text": {"field": "dt"}}}
              ]
            },
            {
              "width": 358, "height": 240,
              "title": {"text": "1-d native contact landscape", "fontSize": 18, "fontWeight": "bold", "font": "DejaVu Serif", "offset": 12},
              "resolve": {"axis": {"x": "independent", "y": "independent"}},
              "layer": [
                {"data": {"values": [{}]}, "mark": {"type": "rule", "color": "black", "strokeDash": [4, 3], "strokeWidth": 1.1},
                 "encoding": {"y": {"datum": 0, "type": "quantitative", "scale": {"domain": [-11.5, 1.5], "nice": false, "zero": false},
                   "axis": {"orient": "left", "values": [0, -2, -4, -6, -8, -10], "format": "d", "title": null, "labelPadding": 6}}}},
                {"data": {"name": "cAnn"}, "mark": {"type": "rule", "strokeWidth": 1.2},
                 "encoding": {
                   "x": {"field": "x1", "type": "quantitative", "scale": {"domain": [4, 24], "nice": false, "zero": false},
                     "axis": {"orient": "bottom", "values": [4, 8, 12, 16, 20, 24], "format": "d", "title": "bin width Δx", "titleFontSize": 17, "labelPadding": 14, "titlePadding": 6}},
                   "y": {"field": "y1", "type": "quantitative", "axis": null},
                   "x2": {"field": "x2"}, "y2": {"field": "y2"},
                   "color": {"field": "dt", "type": "nominal", "scale": {"domain": ["Δt = 1 ns", "Δt = 2 ns", "Δt = 4 ns", "Δt = 8 ns"], "range": ["#2a6dbf", "#3a5da8", "#5b4a8c", "#c5193c"]}, "legend": null}
                 }},
                {"data": {"name": "cLand"}, "mark": {"type": "line", "strokeWidth": 1.2},
                 "encoding": {
                   "x": {"field": "bw", "type": "quantitative", "axis": {"orient": "top", "values": [8, 12, 16, 20], "labels": false, "title": null}},
                   "y": {"field": "v", "type": "quantitative", "axis": {"orient": "right", "values": [0, -2, -4, -6, -8, -10], "labels": false, "title": null}},
                   "color": {"field": "dt", "type": "nominal", "legend": null}
                 }},
                {"data": {"name": "cLand"}, "mark": {"type": "point", "shape": "square", "filled": true, "size": 50, "opacity": 1},
                 "encoding": {"x": {"field": "bw", "type": "quantitative", "axis": null}, "y": {"field": "v", "type": "quantitative", "axis": null}, "color": {"field": "dt", "type": "nominal", "legend": null}}},
                {"data": {"name": "cAnn"}, "mark": {"type": "text", "fontSize": 19, "font": "DejaVu Serif", "align": "left", "baseline": "middle", "color": "black"},
                 "encoding": {"x": {"field": "lx", "type": "quantitative", "axis": null}, "y": {"field": "ly", "type": "quantitative", "axis": null}, "text": {"field": "dt"}}}
              ]
            }
          ]
        }
      ]
    }
  ],
  "spacing": 0,
  "resolve": {"scale": {"color": "independent", "fill": "independent", "stroke": "independent"}},
  "config": {
    "font": "DejaVu Serif",
    "view": {"stroke": "black", "strokeWidth": 1.3},
    "axis": {"domain": false, "grid": false, "tickSize": -5, "tickColor": "black", "tickWidth": 1, "labelFont": "DejaVu Serif", "labelFontSize": 15, "labelColor": "black", "labelPadding": 11, "labelFlush": false, "labelOverlap": false, "titleFont": "DejaVu Serif", "titleFontSize": 18, "titleFontWeight": "normal", "titleColor": "black"},
    "title": {"font": "DejaVu Serif", "color": "black"}
  }
}
